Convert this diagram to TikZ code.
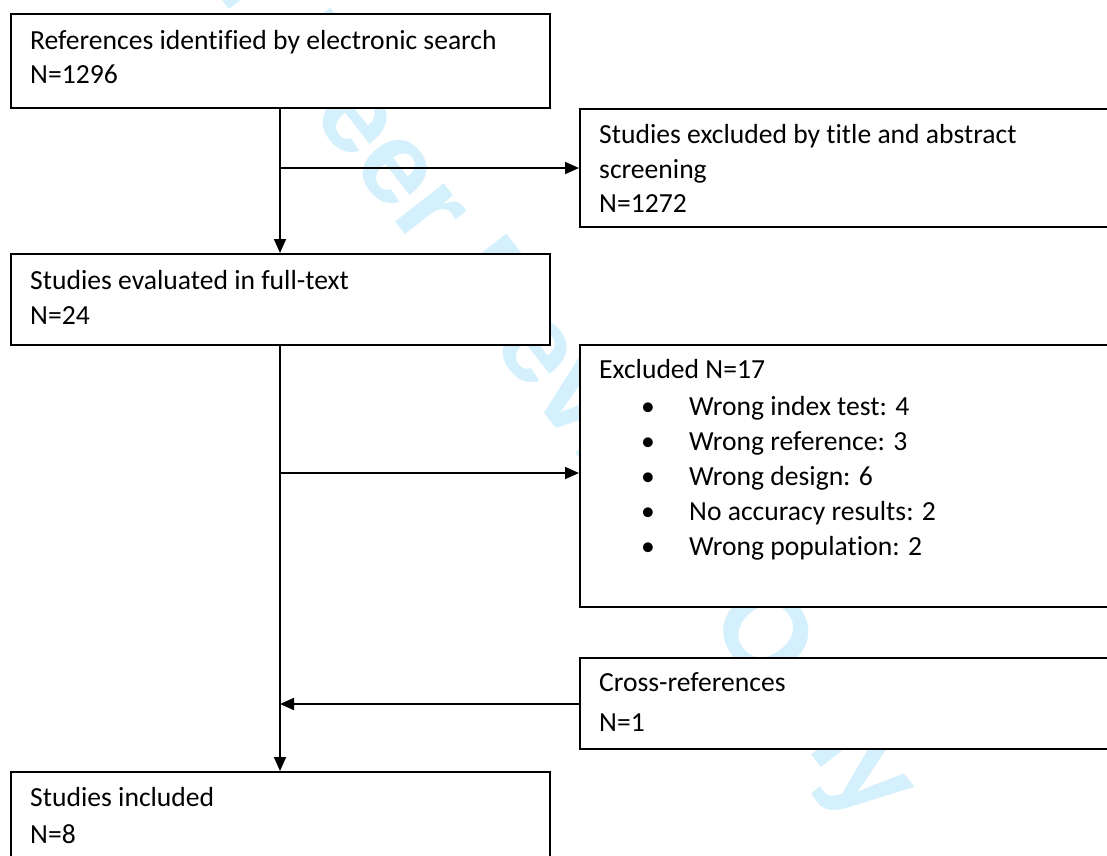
\documentclass[tikz,border=0pt]{standalone}
\usepackage{fontspec}
\setmainfont{Carlito}[Ligatures=NoCommon]
\newfontfamily\wmfont{Liberation Sans}
\usetikzlibrary{arrows.meta}
\definecolor{wm}{RGB}{212,240,252}
\begin{document}
\begin{tikzpicture}[x=1pt,y=-1pt,
  box/.style={draw=black, fill=white, line width=1.6pt, rectangle, anchor=north west, inner sep=0pt},
  txt/.style={anchor=base west, inner sep=0pt, font=\fontsize{27.6}{34}\selectfont},
  bul/.style={anchor=base, inner sep=0pt, font=\fontsize{27.6}{34}\selectfont},
  arr/.style={line width=1.8pt, -{Triangle[length=14pt,width=12pt]}}]
\useasboundingbox[fill=white] (0,0) rectangle (1107,855);
% watermark (behind the boxes)
\node[anchor=base west, rotate=-52, inner sep=0pt, text=wm,
  font=\wmfont\bfseries\fontsize{117}{117}\selectfont] (wmark) at (126,-122.5) {For Peer Review Only};
% boxes
\node[box, minimum width=539pt, minimum height=94pt] (b1) at (10,13) {};
\node[box, minimum width=540pt, minimum height=118pt] (b2) at (579,108) {};
\node[box, minimum width=539pt, minimum height=91pt] (b3) at (10,253) {};
\node[box, minimum width=540pt, minimum height=262pt] (b4) at (579,344) {};
\node[box, minimum width=540pt, minimum height=91pt] (b5) at (579,657) {};
\node[box, minimum width=539pt, minimum height=100pt] (b6) at (10,771) {};
% texts
\node[txt] (t1a) at (30,49) {References identified by electronic search};
\node[txt] (t1b) at (30,83) {N=1296};
\node[txt] (t2a) at (599,143) {Studies excluded by title and abstract};
\node[txt] (t2b) at (599,178) {screening};
\node[txt] (t2c) at (599,212) {N=1272};
\node[txt] (t3a) at (30,289) {Studies evaluated in full-text};
\node[txt] (t3b) at (30,324) {N=24};
\node[txt] (t4a) at (599,378) {Excluded N=17};
\foreach \i/\y/\s in {1/415/Wrong index test: 4, 2/450/Wrong reference: 3, 3/485/Wrong design: 6, 4/520/No accuracy results: 2, 5/555/Wrong population: 2}{
  \node[bul] (bu\i) at (648,\y) {•};
  \node[txt] (it\i) at (689,\y) {\s};
}
\node[txt] (t5a) at (599,691) {Cross-references};
\node[txt] (t5b) at (599,731) {N=1};
\node[txt] (t6a) at (30,806) {Studies included};
\node[txt] (t6b) at (30,843) {N=8};
% connectors
\coordinate (c1) at (280,168);
\coordinate (c2) at (280,473);
\coordinate (c3) at (280,704);
\draw[arr] (b1.south -| c1) -- (b3.north -| c1);
\draw[arr] (c1) -- (c1 -| b2.west);
\draw[arr] (b3.south -| c2) -- (b6.north -| c2);
\draw[arr] (c2) -- (c2 -| b4.west);
\draw[arr] (c3 -| b5.west) -- (c3);
\end{tikzpicture}
\end{document}
